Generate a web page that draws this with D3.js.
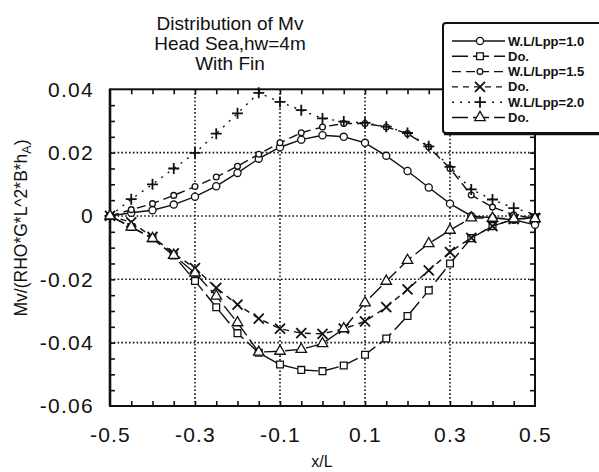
<!DOCTYPE html>
<html>
<head>
<meta charset="utf-8">
<script src="https://cdn.jsdelivr.net/npm/d3@7"></script>
<style>
  html, body { margin: 0; padding: 0; background: #fff; }
  svg { display: block; font-family: "Liberation Sans", Arial, Helvetica, sans-serif; }
</style>
</head>
<body>
<svg id="chart" width="599" height="472"></svg>
<script>
// Station positions along the hull (x/L)
const stations = [-0.5, -0.45, -0.4, -0.35, -0.3, -0.25, -0.2, -0.15, -0.1, -0.05, 0,
                  0.05, 0.1, 0.15, 0.2, 0.25, 0.3, 0.35, 0.4, 0.45, 0.5];

// Non-dimensional vertical bending moment, hogging (positive) and sagging (negative)
const wl10Hog = [0, 0.0010, 0.0018, 0.0036, 0.0061, 0.0094, 0.0136, 0.0181, 0.0217, 0.0241, 0.0255,
                 0.0250, 0.0231, 0.0190, 0.0142, 0.0090, 0.0039, 0.0000, -0.0006, -0.0012, -0.0028];
const wl10Sag = [0, -0.0035, -0.0070, -0.0125, -0.0205, -0.0288, -0.0370, -0.0432, -0.0469, -0.0486, -0.0490,
                 -0.0472, -0.0438, -0.0387, -0.0316, -0.0235, -0.0150, -0.0070, -0.0032, -0.0010, -0.0005];
const wl15Hog = [0, 0.0020, 0.0039, 0.0065, 0.0093, 0.0123, 0.0157, 0.0195, 0.0231, 0.0263, 0.0281,
                 0.0292, 0.0292, 0.0281, 0.0260, 0.0218, 0.0150, 0.0066, 0.0028, 0.0004, -0.0008];
const wl15Sag = [0, -0.0020, -0.0066, -0.0118, -0.0165, -0.0227, -0.0280, -0.0324, -0.0356, -0.0370, -0.0372,
                 -0.0356, -0.0333, -0.0288, -0.0232, -0.0172, -0.0114, -0.0069, -0.0032, -0.0010, -0.0006];
const wl20Hog = [0, 0.0053, 0.0100, 0.0150, 0.0199, 0.0260, 0.0324, 0.0389, 0.0360, 0.0334, 0.0308,
                 0.0298, 0.0294, 0.0282, 0.0262, 0.0220, 0.0155, 0.0084, 0.0052, 0.0025, 0.0005];
const wl20Sag = [0, -0.0035, -0.0071, -0.0124, -0.0180, -0.0253, -0.0337, -0.0430, -0.0427, -0.0421, -0.0403,
                 -0.0356, -0.0274, -0.0206, -0.0140, -0.0087, -0.0045, -0.0006, -0.0007, -0.0009, -0.0008];

const legendLabels = ["W.L/Lpp=1.0", "Do.", "W.L/Lpp=1.5", "Do.", "W.L/Lpp=2.0", "Do."];
const xTickLabels = ["-0.5", "-0.3", "-0.1", "0.1", "0.3", "0.5"];
const yTickLabels = ["0.04", "0.02", "0", "-0.02", "-0.04", "-0.06"];
const titleLines = ["Distribution of Mv", "Head Sea,hw=4m", "With Fin"];

const svg = d3.select("#chart");
const plot = { left: 110, right: 535, top: 89.3, bottom: 406 };

const x = d3.scaleLinear().domain([-0.5, 0.5]).range([plot.left, plot.right]);
const y = d3.scaleLinear().domain([-0.06, 0.04]).range([plot.bottom, plot.top]);

// Title, three stacked lines
titleLines.forEach((t, i) => {
  svg.append("text").attr("x", 230).attr("y", 30 + i * 20)
    .attr("text-anchor", "middle").attr("font-size", 19).attr("fill", "#111").text(t);
});

// Dotted grid
const gridX = xTickLabels.map(Number).filter(v => v > -0.5 && v < 0.5);
const gridY = yTickLabels.map(Number).filter(v => v > -0.06 && v < 0.04);
const grid = svg.append("g").attr("stroke", "#111").attr("stroke-width", 1.6).attr("stroke-dasharray", "1.6,2.2");
grid.selectAll("line.gx").data(gridX).join("line")
  .attr("x1", d => x(d)).attr("x2", d => x(d)).attr("y1", plot.top).attr("y2", plot.bottom);
grid.selectAll("line.gy").data(gridY).join("line")
  .attr("y1", d => y(d)).attr("y2", d => y(d)).attr("x1", plot.left).attr("x2", plot.right);

// Minor ticks on all four sides, pointing inward
const minorX = d3.range(-0.45, 0.5, 0.05).map(v => +v.toFixed(2));
const minorY = d3.range(-0.055, 0.04, 0.005).map(v => +v.toFixed(3));
function minorAxis(axis, ticks, size, transform) {
  const g = svg.append("g").attr("transform", transform)
    .call(axis.tickValues(ticks).tickSize(size).tickFormat(""));
  g.select(".domain").remove();
  g.selectAll(".tick line").attr("stroke", "#111").attr("stroke-width", 1.6);
}
minorAxis(d3.axisBottom(x), minorX, -5, `translate(0,${plot.bottom})`);
minorAxis(d3.axisTop(x), minorX, -5, `translate(0,${plot.top})`);
minorAxis(d3.axisLeft(y), minorY, -5, `translate(${plot.left},0)`);
minorAxis(d3.axisRight(y), minorY, -5, `translate(${plot.right},0)`);

// Frame
svg.append("rect")
  .attr("x", plot.left).attr("y", plot.top)
  .attr("width", plot.right - plot.left).attr("height", plot.bottom - plot.top)
  .attr("fill", "none").attr("stroke", "#111").attr("stroke-width", 2);
svg.append("line").attr("x1", plot.left).attr("x2", plot.left)
  .attr("y1", plot.top).attr("y2", plot.bottom).attr("stroke", "#111").attr("stroke-width", 2.6);

// Tick labels
const xAxis = svg.append("g").attr("transform", `translate(0,${plot.bottom})`)
  .call(d3.axisBottom(x).tickValues(xTickLabels.map(Number)).tickSize(0).tickPadding(21)
    .tickFormat((d, i) => xTickLabels[i]));
xAxis.select(".domain").remove();
xAxis.selectAll("text").attr("font-size", 21).attr("letter-spacing", 1.2).attr("fill", "#111")
  .attr("font-family", "'Liberation Sans', Arial, sans-serif");

const yAxis = svg.append("g").attr("transform", `translate(${plot.left},0)`)
  .call(d3.axisLeft(y).tickValues(yTickLabels.map(Number)).tickSize(0).tickPadding(16)
    .tickFormat((d, i) => yTickLabels[i]));
yAxis.select(".domain").remove();
yAxis.selectAll("text").attr("font-size", 21).attr("letter-spacing", 1.3).attr("fill", "#111")
  .attr("font-family", "'Liberation Sans', Arial, sans-serif");

// Axis titles
svg.append("text").attr("x", 322).attr("y", 467).attr("text-anchor", "middle")
  .attr("font-size", 16).attr("fill", "#111").text("x/L");
const yTitle = svg.append("text").attr("transform", "translate(27,228) rotate(-90)")
  .attr("text-anchor", "middle").attr("font-size", 17.5).attr("fill", "#111");
yTitle.append("tspan").text("Mv/(RHO*G*L^2*B*h");
yTitle.append("tspan").attr("font-size", 12.5).attr("dy", 4).text("A");
yTitle.append("tspan").attr("dy", -4).text(")");

// Marker shapes
const markerPath = {
  circle: d3.symbol(d3.symbolCircle, 40)(),
  square: d3.symbol(d3.symbolSquare, 46)(),
  diamond: d3.symbol(d3.symbolCircle, 26)(),
  cross: "M-5,-5L5,5M-5,5L5,-5",
  plus: "M-5.5,0H5.5M0,-5.5V5.5",
  triangle: d3.symbol(d3.symbolTriangle, 48)()
};

const series = [
  { values: wl10Hog, marker: "circle",   dash: null },
  { values: wl10Sag, marker: "square",   dash: "16,5" },
  { values: wl15Hog, marker: "diamond",  dash: "9,5" },
  { values: wl15Sag, marker: "cross",    dash: "6,5" },
  { values: wl20Hog, marker: "plus",     dash: "2,6" },
  { values: wl20Sag, marker: "triangle", dash: "16,5" }
];

const line = d3.line().x(d => x(d[0])).y(d => y(d[1]));

series.forEach(s => {
  const pts = stations.map((st, i) => [st, s.values[i]]);
  svg.append("path").datum(pts).attr("d", line)
    .attr("fill", "none").attr("stroke", "#111").attr("stroke-width", 1.4)
    .attr("stroke-dasharray", s.dash);
  const filled = !(s.marker === "cross" || s.marker === "plus");
  svg.append("g").selectAll("path").data(pts).join("path")
    .attr("transform", d => `translate(${x(d[0])},${y(d[1])})`)
    .attr("d", markerPath[s.marker])
    .attr("fill", filled ? "#fff" : "none")
    .attr("stroke", "#111").attr("stroke-width", filled ? 1.3 : 1.8);
});

// Legend
const lg = svg.append("g");
lg.append("rect").attr("x", 443).attr("y", 23).attr("width", 170).attr("height", 110).attr("rx", 3)
  .attr("fill", "#fff").attr("stroke", "#111").attr("stroke-width", 2);
lg.append("line").attr("x1", 444).attr("x2", 599).attr("y1", 134).attr("y2", 134)
  .attr("stroke", "#111").attr("stroke-width", 2.5);
series.forEach((s, i) => {
  const ly = 41 + i * 15.3;
  lg.append("line").attr("x1", 452).attr("x2", 505).attr("y1", ly).attr("y2", ly)
    .attr("stroke", "#111").attr("stroke-width", 1.4).attr("stroke-dasharray", s.dash);
  const filled = !(s.marker === "cross" || s.marker === "plus");
  lg.append("path").attr("transform", `translate(480,${ly})`).attr("d", markerPath[s.marker])
    .attr("fill", filled ? "#fff" : "none").attr("stroke", "#111")
    .attr("stroke-width", filled ? 1.3 : 1.8);
  lg.append("text").attr("x", 508).attr("y", ly + 4.5).attr("font-size", 13).attr("font-weight", "bold")
    .attr("fill", "#111").text(legendLabels[i]);
});
</script>
</body>
</html>
